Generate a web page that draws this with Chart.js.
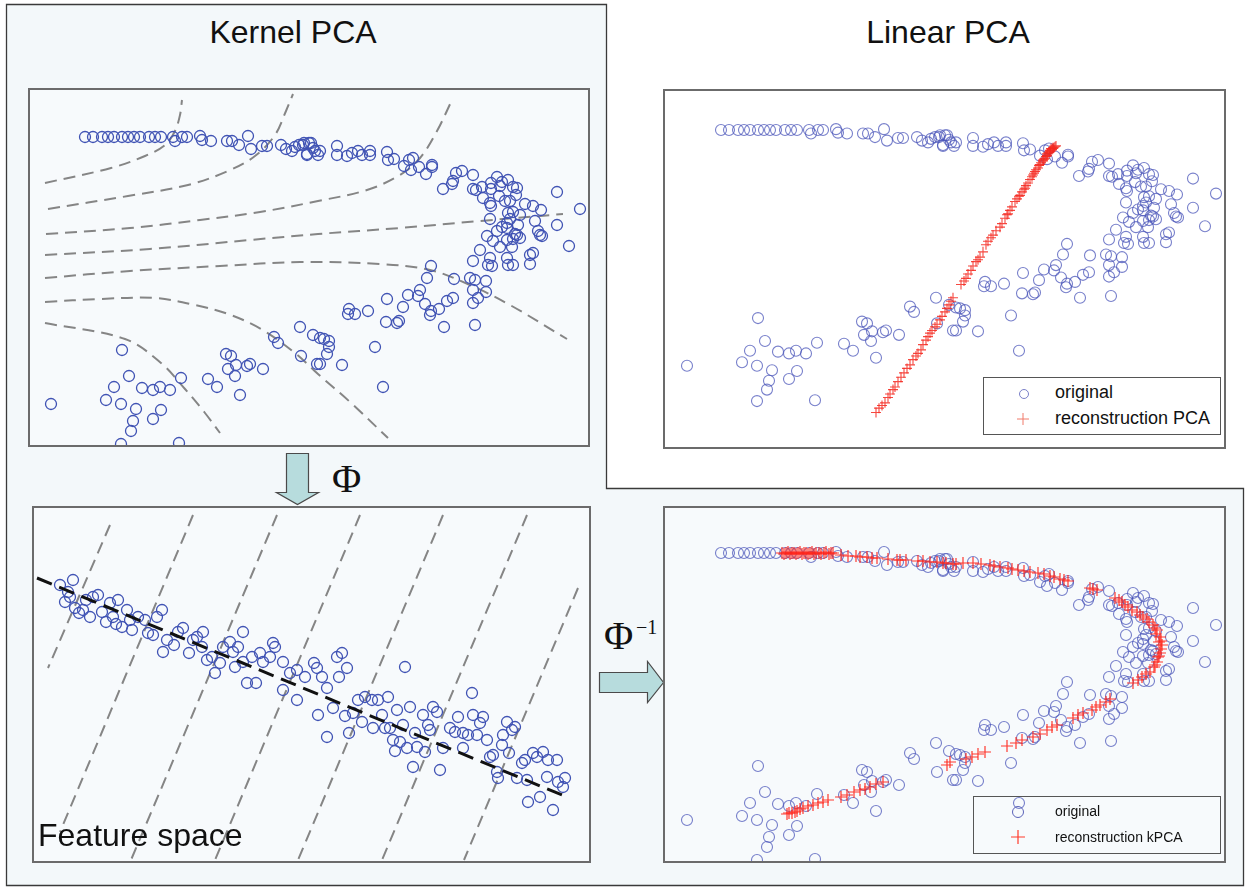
<!DOCTYPE html>
<html>
<head>
<meta charset="utf-8">
<script src="https://cdn.jsdelivr.net/npm/chart.js@4.4.1/dist/chart.umd.min.js"></script>
<style>
  body { margin: 0; width: 1246px; height: 890px; background: #fff; position: relative; overflow: hidden;
         font-family: "Liberation Sans", Arial, sans-serif; color: #111; }
  .panel { position: absolute; box-sizing: border-box; border: 2px solid #6b6b6b; background: #f7fafc; }
  .panel canvas { display: block; }
  .title { position: absolute; font-size: 32px; line-height: 32px; white-space: nowrap; }
  .phi { position: absolute; font-family: "Liberation Serif", "DejaVu Serif", serif; font-size: 40px; line-height: 40px; }
  .legend { position: absolute; box-sizing: border-box; border: 1px solid #555; }
  .legend div { position: absolute; white-space: nowrap; }
  .legend svg { position: absolute; }
</style>
</head>
<body>

<svg width="1246" height="890" style="position:absolute;left:0;top:0">
  <path d="M6.5 4.5 H606.5 V488.5 H1243.5 V885.5 H6.5 Z" fill="#f3f8fa" stroke="#3a3a3a" stroke-width="1.3"/>
  <!-- Phi arrow (down) -->
  <path d="M286.5 453.5 H308.5 V492.5 H318.5 L297.5 504.5 L276.5 492.5 H286.5 Z" fill="#b7dcdd" stroke="#4a4a4a" stroke-width="1.2"/>
  <!-- Phi^-1 arrow (right) -->
  <path d="M599.5 672.5 H647.5 V661.5 L663.5 682.5 L647.5 702.5 V692.5 H599.5 Z" fill="#b7dcdd" stroke="#4a4a4a" stroke-width="1.2"/>
</svg>

<div class="title" style="left:193px;top:16px;width:200px;text-align:center">Kernel PCA</div>
<div class="title" style="left:848px;top:16px;width:200px;text-align:center">Linear PCA</div>

<div class="panel" style="left:28px;top:88px;width:562px;height:359px"><canvas id="kernel" width="558" height="355"></canvas></div>
<div class="panel" style="left:32px;top:506px;width:559px;height:357px"><canvas id="feature" width="555" height="353"></canvas></div>
<div class="panel" style="left:663px;top:89px;width:563px;height:360px;background:#fff"><canvas id="linear" width="559" height="356"></canvas></div>
<div class="panel" style="left:663px;top:506px;width:563px;height:357px"><canvas id="kpca" width="559" height="353"></canvas></div>

<div class="title" style="left:38px;top:819px">Feature space</div>

<div class="phi" style="left:332px;top:459px">Φ</div>
<div class="phi" style="left:604px;top:616px">Φ</div>
<div class="phi" style="left:636px;top:617px;font-size:20px;line-height:20px">−1</div>

<div class="legend" style="left:983px;top:377px;width:238px;height:58px;background:#fff">
  <svg width="14" height="14" style="left:33px;top:9px"><circle cx="7" cy="7" r="4.5" fill="none" stroke="#7a80c8" stroke-width="1"/></svg>
  <svg width="14" height="14" style="left:32px;top:34px"><path d="M7 1 V13 M1 7 H13" stroke="#f07a6a" stroke-width="1"/></svg>
  <div style="left:71px;top:4px;font-size:18px">original</div>
  <div style="left:71px;top:30px;font-size:18px">reconstruction PCA</div>
</div>

<div class="legend" style="left:973px;top:796px;width:248px;height:58px">
  <svg width="16" height="16" style="left:36px;top:7px"><circle cx="8" cy="8" r="5.5" fill="none" stroke="#5a62b8" stroke-width="1"/></svg>
  <svg width="16" height="16" style="left:36px;top:32px"><path d="M8 1 V15 M1 8 H15" stroke="#ff3a2a" stroke-width="1.2"/></svg>
  <div style="left:81px;top:6px;font-size:14px">original</div>
  <div style="left:81px;top:32px;font-size:14px">reconstruction kPCA</div>
</div>

<script>
// original data (kernel panel coordinates; reused by both right-hand panels)
const original = [
  [85,137],[93,137],[102,137],[108,137],[114,137],[122,137],[128,137],[134,137],[140,137],[149,137],
  [155,137],[161,137],[173,137],[175,141],[182,137],[187,137],[200,136],[202,140],[211,141],[227,141],
  [232,141],[239,145],[248,136],[251,149],[262,146],[267,146],[281,145],[286,149],[292,151],[295,147],
  [299,145],[304,143],[307,154],[311,143],[315,151],
  [303,145],[309,143],[313,148],[320,151],[307,155],[318,155],[337,146],[337,155],[347,156],[352,153],
  [358,151],[362,155],[370,151],[370,155],[387,152],[388,160],[394,159],[404,166],[409,160],[413,158],
  [411,170],[419,167],[426,174],[432,165],[432,167],[443,189],[452,184],[453,181],[456,173],[462,171],
  [473,175],[473,189],[476,190],[482,187],[483,198],[491,189],[491,183],[497,177],[500,186],[502,182],
  [508,180],[513,187],[517,188],[516,195],[499,196],[490,203],[491,206],[505,201],[510,201],[525,204],
  [533,206],[541,210],[557,192],[580,209],[508,213],[513,212],[520,215],[510,219],[507,223],[490,219],
  [535,221],[557,225],[518,225],[507,228],[502,227],[497,231],[515,234],[520,238],[517,235],[538,231],
  [540,235],[542,236],[487,236],[493,241],[507,240],[513,239],[500,247],[480,250],[512,247],[533,253],
  [530,255],[569,246],[473,261],[490,258],[488,265],[492,266],[507,258],[508,265],[513,265],[530,264],
  [431,266],
  [122,350],[129,376],[114,387],[106,400],[121,404],[51,404],[136,409],[133,421],[131,431],[121,444],
  [142,388],[153,390],[160,387],[170,390],[161,410],[153,419],[179,443],[181,378],[208,379],[217,387],
  [226,354],[231,356],[236,365],[228,369],[235,376],[247,366],[250,364],[240,395],[263,369],[274,337],
  [278,343],[300,327],[313,335],[301,356],[317,364],
  [427,278],[454,279],[470,278],[475,280],[486,281],[473,290],[486,292],[478,298],[473,303],[475,325],
  [420,290],[418,296],[408,295],[425,304],[431,311],[430,315],[439,309],[447,301],[453,298],[444,327],
  [403,307],[387,299],[386,322],[397,323],[399,321],[368,311],[349,309],[348,314],[355,314],[320,338],
  [324,339],[329,341],[329,347],[327,354],[320,364],[342,365],[375,347],[383,387]
];

// kernel PCA contour lines
const contour1 = [[45,183],[111,168],[145,156],[165,145],[175,131],[180,115],[182,100]];
const contour2 = [[48,209],[128,196],[188,185],[228,171],[255,156],[275,135],[286,111],[293,94]];
const contour3 = [[46,234],[130,228],[200,220],[260,212],[318,201],[367,190],[400,175],[420,158],[437,131],[452,100]];
const contour4 = [[45,255],[150,249],[250,240],[318,234],[400,228],[480,221],[563,214]];
const contour5 = [[45,278],[130,271],[220,266],[300,262],[380,264],[430,270],[470,285],[510,305],[567,339]];
const contour6 = [[45,302],[100,299],[155,298],[195,305],[228,314],[261,329],[295,353],[318,374],[350,402],[388,438]];
const contour7 = [[45,323],[125,339],[161,363],[185,389],[205,413],[220,433]];

// linear PCA reconstruction
const reconPCA = [
  [240,457],[249,446],[257,431],[262,422],[265,417],[274,403],[277,397],[285,386],[290,375],[294,367],
  [299,360],[304,352],[309,343],[313,335],[317,327],[325,312],[330,305],[335,296],[340,286],[344,281],
  [350,267],[355,259],[364,247],[369,237],[374,228],[379,218],[384,211],[389,203],[392,197],[397,188],
  [402,180],[405,174],[409,169],[412,163],[415,158],[419,156],[407,172],[411,166],[414,161],[417,157],
  [243,452],[246,449],[252,440],[254,436],[259,428],[268,412],[271,407],[280,393],[282,390],[287,380],
  [292,371],[296,364],[301,357],[306,348],[311,339],[315,331],[328,308],[332,300],[337,291],[342,284],
  [347,275],[352,263],[357,256],[360,251],[366,243],[371,233],[376,224],[381,215],[386,207],[390,200],
  [394,193],[399,184],[403,177],[407,171],[410,167],[413,162],[416,159],[418,157],[400,182],[396,190],
  [404,176],[408,170],[411,164],[414,160],[417,158],[420,155],[398,186],[388,204],[383,212],[372,232]
];

// kernel PCA reconstruction
const reconKPCA = [
  [146,137],[150,137],[154,138],[158,137],[162,137],[166,138],[170,137],[174,137],[178,138],[183,137],
  [188,137],[193,138],[197,137],[212,140],[231,141],[241,142],[261,144],[264,144],[287,145],[294,146],
  [301,146],[307,147],[317,148],[327,147],[337,147],[354,149],[364,151],[372,152],[382,154],[394,156],
  [402,157],[414,160],[424,163],[432,165],[454,172],[461,174],[479,182],[486,186],[492,191],[501,196],
  [507,201],[517,209],[521,214],[524,221],[526,229],[524,237],[521,246],[514,256],[506,261],[497,267],
  [474,283],[464,289],[456,294],[447,297],[437,302],[421,309],[411,314],[397,321],[386,324],[371,330],
  [349,336],[336,341],[314,346],[311,349],[247,366],[234,371],[224,374],[211,379],[192,384],[187,386],
  [177,389],[167,392],[161,395],[156,397],[151,398],[519,212],[523,226],[522,241],[518,251],[511,203],
  [148,138],[152,136],[156,137],[160,138],[164,136],[168,137],[172,138],[176,136],[180,137],[185,138],
  [190,136],[195,137],[205,139],[220,140],[224,141],[236,142],[252,143],[270,144],[282,145],[310,147],
  [320,148],[345,148],[358,150],[376,153],[388,155],[408,158],[418,161],[428,164],[457,173],[483,184],
  [489,189],[496,194],[504,199],[513,206],[520,218],[525,225],[525,233],[523,240],[519,249],[510,258],
  [502,264],[470,286],[460,291],[442,299],[416,311],[404,318],[380,327],[342,338],[330,343],[240,368],
  [229,373],[218,376],[205,381],[182,387],[172,390],[164,393],[159,396],[153,397]
];

// feature space
const featurePts = [
  [60,585],[73,580],[65,602],[70,597],[68,592],[75,608],[79,613],[83,610],[90,617],[86,600],
  [93,597],[98,595],[102,612],[106,622],[110,603],[118,600],[113,617],[116,624],[122,627],[127,610],
  [130,620],[132,630],[138,617],[145,620],[148,633],[153,635],[157,617],[162,610],[163,652],[167,640],
  [174,645],[178,632],[183,628],[189,653],[193,640],[197,637],[203,632],[202,647],[207,660],[212,657],
  [215,673],[220,663],[223,647],[230,642],[233,652],[238,647],[243,632],[235,667],[243,662],[247,683],
  [256,683],[252,657],[260,653],[263,662],[270,657],[273,643],[275,647],[283,662],[290,673],[297,670],
  [305,677],[283,690],[297,700],
  [314,663],[317,668],[322,677],[337,657],[342,653],[347,668],[339,677],[327,688],[333,708],[318,715],
  [327,737],[345,716],[349,733],[353,713],[362,722],[358,700],[365,697],[372,700],[378,700],[388,697],
  [382,715],[373,728],[385,728],[390,728],[397,710],[405,667],[410,707],[403,725],[393,740],[400,742],
  [395,751],[407,748],[415,733],[417,747],[413,767],[425,752],[423,715],[428,725],[433,707],[437,712],
  [430,730],[440,770],[443,748],[450,728],[455,732],[458,717],[463,733],[463,748],[468,735],[472,693],
  [473,715],[477,735],[480,723],[483,717],[487,740],[490,757],[493,755],[497,772],[498,778],[502,745],
  [503,735],[507,722],[509,753],[512,730],[515,727],[517,778],[522,763],[525,760],[528,802],[527,780],
  [533,753],[537,757],[540,797],[543,752],[548,760],[547,777],[557,760],[553,810],[558,782],[565,778],
  [563,787]
];
const principalAxis = [[37,578],[562,795]];
const gridLine1 = [[110,525],[48,668]];
const gridLine2 = [[193,515],[60,832]];
const gridLine3 = [[277,515],[131,860]];
const gridLine4 = [[360,515],[215,860]];
const gridLine5 = [[443,515],[298,860]];
const gridLine6 = [[527,515],[382,860]];
const gridLine7 = [[578,588],[464,860]];

Chart.defaults.animation = false;
Chart.defaults.events = [];

function pts(arr) { return arr.map(p => ({ x: p[0], y: p[1] })); }

function circles(arr, color, radius, width) {
  return { data: pts(arr), showLine: false, pointStyle: 'circle', pointRadius: radius,
           pointBorderWidth: width, pointBorderColor: color, pointBackgroundColor: 'rgba(0,0,0,0)' };
}
function crosses(arr, color, radius, width) {
  return { data: pts(arr), showLine: false, pointStyle: 'cross', pointRadius: radius,
           pointBorderWidth: width, pointBorderColor: color, pointBackgroundColor: color };
}
function dashed(arr, color, width, dash, tension) {
  return { data: pts(arr), showLine: true, borderColor: color, borderWidth: width, borderDash: dash,
           pointRadius: 0, tension: tension, fill: false };
}

function makeChart(id, xr, yr, datasets) {
  new Chart(document.getElementById(id), {
    type: 'scatter',
    data: { datasets: datasets },
    options: {
      responsive: false,
      layout: { padding: 0, autoPadding: false },
      plugins: { legend: { display: false }, tooltip: { enabled: false } },
      scales: {
        x: { type: 'linear', display: false, min: xr[0], max: xr[1] },
        y: { type: 'linear', display: false, min: yr[0], max: yr[1], reverse: true }
      }
    }
  });
}

const grey = '#858585';

makeChart('kernel', [30, 588], [90, 445], [
  circles(original, '#4053b4', 5.5, 1.3),
  ...[contour1, contour2, contour3, contour4, contour5, contour6, contour7]
      .map(c => dashed(c, grey, 2, [12, 7], 0.35))
]);

makeChart('feature', [34, 589], [508, 861], [
  dashed(principalAxis, '#111', 3, [16, 8], 0),
  circles(featurePts, '#4053b4', 5.5, 1.3),
  ...[gridLine1, gridLine2, gridLine3, gridLine4, gridLine5, gridLine6, gridLine7]
      .map(g => dashed(g, grey, 2, [12, 7], 0))
]);

makeChart('linear', [29, 588], [92.8, 496], [
  crosses(reconPCA, 'rgba(245,40,30,0.85)', 5, 1.1),
  circles(original, 'rgba(75,85,185,0.75)', 5.5, 1.1)
]);

makeChart('kpca', [29, 588], [92, 445], [
  crosses(reconKPCA, 'rgba(255,35,25,0.9)', 6, 1.2),
  circles(original, 'rgba(75,85,185,0.75)', 5.5, 1.1)
]);
</script>
</body>
</html>
